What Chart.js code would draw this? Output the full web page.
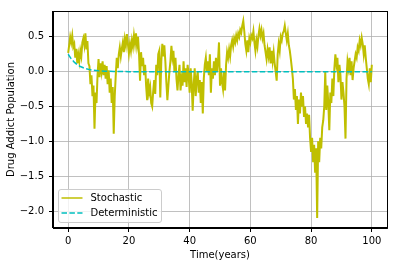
<!DOCTYPE html>
<html>
<head>
<meta charset="utf-8">
<script src="https://cdn.jsdelivr.net/npm/chart.js@4"></script>
<style>
  html, body { margin: 0; padding: 0; background: #fff; }
  #wrap { width: 398px; height: 266px; }
</style>
</head>
<body>
<div id="wrap"><canvas id="chart-sde" width="398" height="266"></canvas></div>
<script>
/* Data */

// stochastic path, three samples per year from t=0 to t=100
var stochValues = [
	0.27, 0.38, 0.50,   0.42, 0.52, 0.36,   0.40, 0.20, 0.33,   0.12, 0.25, 0.15,   0.30, 0.22, 0.42,
	0.48, 0.38, 0.55,   0.32, 0.44, 0.12,   0.08, -0.18, -0.05, -0.35, -0.20, -0.82, -0.30, -0.45, -0.05,
	0.18, -0.08, 0.12,  0.00, 0.15, -0.05,  0.10, -0.10, 0.08,  -0.18, 0.02, -0.30, -0.10, -0.45, -0.22,
	-0.89, -0.35, -0.05, 0.20, 0.05, 0.25,  0.35, 0.22, 0.33,   0.42, 0.28, 0.47,   0.38, 0.54, 0.40,
	0.26, 0.40, 0.30,   0.45, 0.36, 0.52,   0.40, 0.55, 0.38,   0.50, 0.25, -0.13,  0.28, 0.08, 0.20,
	-0.05, 0.10, -0.20, -0.41, -0.10, -0.30, -0.22, -0.45, -0.50, -0.28, -0.12, -0.32, 0.10, -0.05, 0.25,
	0.30, -0.37, 0.15,  0.40, 0.22, 0.38,   0.15, -0.15, -0.41, -0.20, 0.00, 0.15,  0.37, 0.20, 0.30,
	0.00, 0.20, -0.10,  -0.27, -0.05, 0.10, -0.27, -0.10, -0.20, 0.15, -0.15, 0.05,  -0.22, 0.10, -0.05,
	-0.30, 0.05, -0.15, -0.56, -0.20, 0.05, -0.35, -0.10, 0.00, -0.30, -0.12, -0.45, -0.15, -0.60, -0.10,
	0.10, 0.20, 0.00,   0.15, -0.05, 0.25,  -0.30, 0.05, -0.10, 0.15, -0.05, 0.20,  0.00, 0.15, 0.42,
	-0.20, 0.05, -0.15, -0.25, 0.00, -0.27, 0.10, 0.28, 0.20,   0.32, 0.22, 0.38,   0.45, 0.36, 0.48,
	0.42, 0.52, 0.45,   0.55, 0.50, 0.60,   0.56, 0.66, 0.73,   0.58, 0.40, 0.30,   0.45, 0.28, 0.48,
	0.42, 0.52, 0.48,   0.58, 0.42, 0.30,   0.45, 0.36, 0.52,   0.62, 0.52, 0.60,   0.48, 0.55, 0.38,
	0.28, 0.18, 0.32,   0.22, 0.35, 0.12,   0.30, 0.15, 0.28,   0.12, 0.00, -0.13,  0.25, 0.40, 0.30,
	0.50, 0.45, 0.55,   0.58, 0.66, 0.55,   0.45, 0.55, 0.38,   0.30, 0.18, 0.05,   -0.10, -0.40, -0.25,
	-0.55, -0.35, -0.75, -0.40, -0.60, -0.30, -0.50, -0.35, -0.65, -0.50, -0.75, -0.60, -0.80, -0.62, -0.95,
	-1.15, -0.95, -1.30, -1.05, -1.45, -1.10, -2.10, -1.00, -1.30, -0.95, -1.10, -0.80, -0.70, -0.50, 0.00,
	-0.55, -0.20, -0.45, -0.84, -0.30, -0.45, -0.10, -0.35, 0.05, 0.25, 0.10, 0.20,   -0.15, 0.10, -0.05,
	-0.40, -0.15, -0.30, -0.50, -0.96, -0.10, 0.15, 0.05, 0.20,  -0.05, 0.15, -0.12, 0.05, 0.15, 0.25,
	0.20, 0.35, 0.30,   0.45, 0.38, 0.49,   0.40, 0.25, 0.38,   0.20, 0.05, -0.10,  -0.18, 0.05, -0.15,
	0.10
];
var stochStep = 1 / 3;

// deterministic solution
var detYears  = [ 0, 1, 2, 3, 4, 5, 6, 7, 8, 10, 12, 15, 20, 30, 50, 100 ];
var detValues = [ 0.25, 0.185, 0.137, 0.10, 0.075, 0.056, 0.041, 0.03, 0.023, 0.012, 0.007, 0.003, 0.001, 0, 0, 0 ];

var xTicks = [ 0, 20, 40, 60, 80, 100 ];
var yTicks = [ -2.0, -1.5, -1.0, -0.5, 0.0, 0.5 ];
var seriesNames = [ "Stochastic", "Deterministic" ];

/* Build */

var stochPoints = stochValues.map(function( v, i ){ return { x: i * stochStep, y: v }; });
var detPoints = detYears.map(function( t, i ){ return { x: t, y: detValues[i] }; });

var FONT = { family: "'DejaVu Sans', sans-serif", size: 10 };

// top/right spines and the boxed legend matplotlib draws inside the axes
var mplFrame = {
	id: 'mplFrame',
	afterDatasetsDraw: function( chart ) {
		var a = chart.chartArea, ctx = chart.ctx;
		ctx.save();
		ctx.strokeStyle = '#000';
		ctx.lineWidth = 1;
		ctx.strokeRect( Math.round(a.left) - 0.5, Math.round(a.top) + 0.5, Math.round(a.right - a.left) + 1, Math.round(a.bottom - a.top) - 1 );
		ctx.restore();
	},
	afterDraw: function( chart ) {
		var a = chart.chartArea, ctx = chart.ctx;
		var bx = a.left + 5.5, by = a.bottom - 38.5, bw = 103, bh = 33;
		ctx.save();
		ctx.beginPath();
		ctx.roundRect( bx, by, bw, bh, 2.5 );
		ctx.fillStyle = 'rgba(255,255,255,0.8)';
		ctx.fill();
		ctx.strokeStyle = '#cccccc';
		ctx.lineWidth = 1;
		ctx.stroke();
		ctx.font = FONT.size + "px " + FONT.family;
		ctx.textBaseline = 'middle';
		ctx.fillStyle = '#000';
		var sets = chart.data.datasets;
		for ( var i = 0; i < sets.length; i++ ) {
			var ly = by + 8.5 + i * 15;
			ctx.beginPath();
			ctx.setLineDash( sets[i].borderDash || [] );
			ctx.strokeStyle = sets[i].borderColor;
			ctx.lineWidth = 1.5;
			ctx.moveTo( bx + 3, ly );
			ctx.lineTo( bx + 24, ly );
			ctx.stroke();
			ctx.setLineDash( [] );
			ctx.fillText( sets[i].label, bx + 32, ly );
		}
		ctx.restore();
	}
};

var ctxsde = document.getElementById("chart-sde").getContext('2d');
var myChart = new Chart(ctxsde, {
	type: 'line',
	data: {
		datasets: [{
			label: seriesNames[0],
			data: stochPoints,
			borderColor: '#bfbf00',
			borderWidth: 2,
			pointRadius: 0,
			tension: 0,
			order: 1
		}, {
			label: seriesNames[1],
			data: detPoints,
			borderColor: '#00bfbf',
			borderWidth: 1.5,
			borderDash: [ 5.5, 2.4 ],
			pointRadius: 0,
			tension: 0,
			order: 0
		}]
	},
	options: {
		responsive: false,
		animation: false,
		events: [],
		layout: { padding: { left: 0, right: 11, top: 10, bottom: 0 } },
		plugins: { legend: { display: false }, tooltip: { enabled: false } },
		scales: {
			x: {
				type: 'linear',
				min: -5,
				max: 105,
				afterFit: function( s ){ s.height = 38; },
				afterBuildTicks: function( s ){ s.ticks = xTicks.map(function( v ){ return { value: v }; }); },
				grid: { color: '#b0b0b0', lineWidth: 0.8, tickColor: '#000', tickWidth: 1, tickLength: 4 },
				border: { color: '#000', width: 1 },
				ticks: { color: '#000', font: FONT, padding: 3, maxRotation: 0,
					callback: function( v ){ return String(v); } },
				title: { display: true, text: 'Time(years)', color: '#000', font: FONT, padding: { top: 0, bottom: 5 } }
			},
			y: {
				type: 'linear',
				min: -2.243,
				max: 0.871,
				afterFit: function( s ){ s.width = 53; },
				afterBuildTicks: function( s ){ s.ticks = yTicks.map(function( v ){ return { value: v }; }); },
				grid: { color: '#b0b0b0', lineWidth: 0.8, tickColor: '#000', tickWidth: 1, tickLength: 4 },
				border: { color: '#000', width: 1 },
				ticks: { color: '#000', font: FONT, padding: 5,
					callback: function( v ){ return v.toFixed(1).replace('-', '\u2212'); } },
				title: { display: true, text: 'Drug Addict Population', color: '#000', font: FONT, padding: { top: 5, bottom: 0 } }
			}
		}
	},
	plugins: [ mplFrame ]
});
</script>
</body>
</html>
